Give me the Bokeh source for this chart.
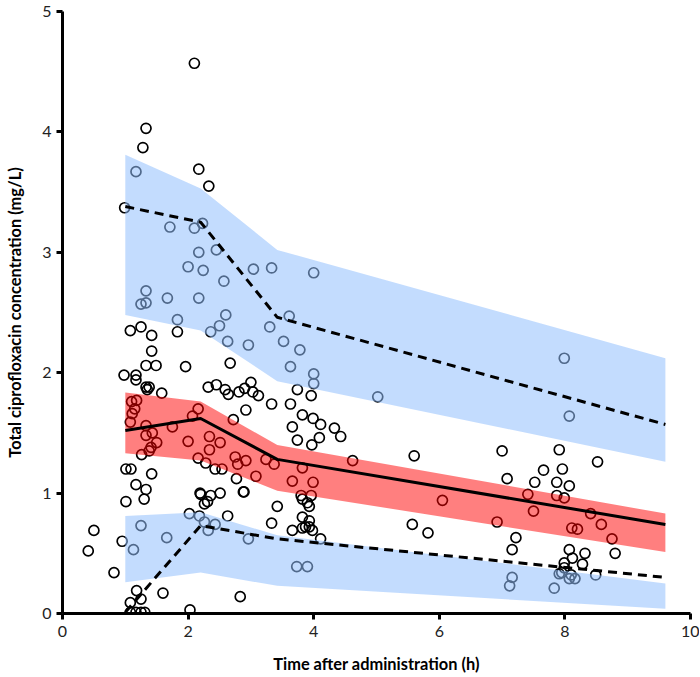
from bokeh.plotting import figure
from bokeh.models import FixedTicker, Range1d
from bokeh.embed import file_html
from bokeh.resources import INLINE

# Observed concentrations
time_h = [
    2.10, 1.33, 1.28, 1.17, 0.99, 2.17, 2.33,
    1.71, 2.10, 2.23, 2.17, 2.45, 2.00, 2.24, 2.57, 3.04, 3.33, 4.00,
    1.33, 1.25, 1.33, 1.67, 2.17, 1.83, 2.60, 2.50, 2.36, 3.61, 3.30,
    2.63, 2.96, 3.52, 3.78, 3.63, 4.00, 4.00, 5.02, 7.99, 8.07,
    1.08, 1.25, 1.42, 1.83,
    1.42, 1.33, 1.49, 1.96, 0.98, 1.17, 1.17, 1.33, 1.35, 1.38, 1.58, 2.67,
    2.32, 2.45, 2.59, 2.64, 2.81, 2.90, 3.00, 3.03, 3.12,
    3.33, 3.63, 3.74, 3.96, 2.92, 2.72, 3.82, 3.99, 4.11, 3.66, 3.74, 4.09, 3.97, 4.33, 4.43,
    1.10, 1.18, 1.15, 1.11, 1.08, 1.33, 1.75, 2.16, 2.07, 1.43, 1.33, 1.50, 1.41, 1.38, 1.26, 2.00, 2.16,
    2.34, 2.51, 2.34, 2.75, 2.92, 2.79, 3.24, 3.37, 3.08, 3.66, 3.99, 3.82, 3.80, 3.96, 4.62,
    1.01, 1.09, 1.42, 1.17, 1.33, 1.01, 1.30, 2.19,
    2.28, 2.43, 2.54, 2.77, 2.20, 2.36, 2.51, 2.31, 2.26, 2.88, 2.89, 3.42, 3.82, 3.90, 3.93,
    3.33, 3.82, 3.93, 3.82, 3.87, 3.93, 3.98, 3.66, 4.11, 2.63,
    2.02, 2.18, 1.25, 1.66, 1.13, 0.50, 0.41, 0.95, 0.82, 1.18, 1.60, 1.08, 1.25,
    1.08, 1.17, 1.25, 1.31, 2.03,
    2.26, 2.32, 2.43, 2.96, 3.73, 3.90, 2.83,
    5.60, 7.00, 7.91, 8.52, 7.66, 7.96, 7.08, 7.52, 7.87, 8.07,
    6.05, 7.41, 7.87, 7.99, 7.50, 6.92, 8.41, 8.58, 8.11, 8.20, 8.75,
    5.57, 5.82, 7.22, 7.16, 8.07, 8.32, 8.80, 8.12, 7.99, 8.28, 7.99,
    7.16, 7.12, 7.83, 7.91, 7.95, 8.07, 8.16, 8.10, 8.49,
]
conc_mg_l = [
    4.57, 4.03, 3.87, 3.67, 3.37, 3.69, 3.55,
    3.21, 3.20, 3.24, 3.00, 3.02, 2.88, 2.85, 2.76, 2.86, 2.87, 2.83,
    2.68, 2.57, 2.58, 2.62, 2.62, 2.44, 2.48, 2.39, 2.34, 2.47, 2.38,
    2.26, 2.23, 2.26, 2.19, 2.05, 1.99, 1.91, 1.80, 2.12, 1.64,
    2.35, 2.38, 2.31, 2.34,
    2.18, 2.06, 2.06, 2.05, 1.98, 1.98, 1.94, 1.88, 1.86, 1.88, 1.83, 2.08,
    1.88, 1.90, 1.86, 1.82, 1.84, 1.87, 1.92, 1.84, 1.81,
    1.74, 1.74, 1.86, 1.81, 1.69, 1.61, 1.65, 1.62, 1.57, 1.55, 1.44, 1.46, 1.40, 1.54, 1.47,
    1.76, 1.77, 1.70, 1.66, 1.59, 1.56, 1.55, 1.70, 1.64, 1.50, 1.48, 1.42, 1.38, 1.35, 1.32, 1.43, 1.29,
    1.47, 1.42, 1.36, 1.30, 1.27, 1.24, 1.28, 1.24, 1.14, 1.10, 1.09, 1.21, 0.98, 0.98, 1.27,
    1.20, 1.20, 1.16, 1.07, 1.03, 0.93, 0.95, 1.00,
    1.25, 1.20, 1.20, 1.12, 0.99, 0.98, 1.00, 0.93, 0.91, 1.01, 1.01, 0.89, 0.95, 0.92, 0.89,
    0.75, 0.80, 0.77, 0.71, 0.72, 0.72, 0.69, 0.69, 0.62, 0.81,
    0.83, 0.81, 0.73, 0.63, 0.53, 0.69, 0.52, 0.60, 0.34, 0.19, 0.17, 0.09, 0.12,
    0.01, 0.01, 0.01, 0.01, 0.03,
    0.76, 0.69, 0.74, 0.62, 0.39, 0.39, 0.14,
    1.31, 1.35, 1.36, 1.26, 1.19, 1.20, 1.12, 1.09, 1.09, 1.06,
    0.94, 0.99, 0.98, 0.96, 0.85, 0.76, 0.83, 0.74, 0.71, 0.70, 0.62,
    0.74, 0.67, 0.63, 0.53, 0.53, 0.50, 0.50, 0.46, 0.42, 0.41, 0.38,
    0.30, 0.23, 0.21, 0.33, 0.34, 0.29, 0.29, 0.32, 0.32,
]

# Binned percentiles
bin_time = [1.0, 2.2, 3.42, 9.6]
p95_ci_hi = [3.81, 3.53, 3.02, 2.12]
p95_ci_lo = [2.48, 2.35, 1.93, 1.26]
p95_obs = [3.38, 3.25, 2.46, 1.57]
p50_ci_hi = [1.835, 1.76, 1.40, 0.83]
p50_ci_lo = [1.33, 1.27, 1.02, 0.51]
p50_obs = [1.52, 1.62, 1.28, 0.74]
p5_ci_hi = [0.81, 0.84, 0.65, 0.25]
p5_ci_lo = [0.26, 0.34, 0.23, 0.04]
p5_obs = [0.01, 0.73, 0.62, 0.30]

x_ticks = [0, 2, 4, 6, 8, 10]
y_ticks = [0, 1, 2, 3, 4, 5]

FONT = "Lato"

p = figure(
    frame_width=628, frame_height=602,
    min_border_left=62, min_border_right=9, min_border_top=11, min_border_bottom=50,
    x_range=Range1d(0, 10), y_range=Range1d(0, 5),
    output_backend="svg", toolbar_location=None,
)
p.outline_line_color = None
p.grid.visible = False
p.background_fill_color = "white"
p.border_fill_color = "white"

p.scatter(time_h, conc_mg_l, size=10, marker="circle", fill_alpha=0,
          line_color="black", line_width=1.7)

blue = (145, 191, 254)
p.varea(x=bin_time, y1=p95_ci_lo, y2=p95_ci_hi, fill_color=blue, fill_alpha=0.55)
p.varea(x=bin_time, y1=p5_ci_lo, y2=p5_ci_hi, fill_color=blue, fill_alpha=0.55)
p.varea(x=bin_time, y1=p50_ci_lo, y2=p50_ci_hi, fill_color=(255, 0, 0), fill_alpha=0.5)

p.line(bin_time, p95_obs, line_color="black", line_width=3, line_dash="9 6")
p.line(bin_time, p5_obs, line_color="black", line_width=3, line_dash="9 6")
p.line(bin_time, p50_obs, line_color="black", line_width=3)

for ax in (p.xaxis[0], p.yaxis[0]):
    ax.axis_line_width = 3
    ax.axis_line_color = "black"
    ax.major_tick_line_width = 3
    ax.major_tick_out = 6
    ax.major_tick_in = 0
    ax.minor_tick_line_color = None
    ax.major_label_text_font = FONT
    ax.major_label_text_font_size = "16px"
    ax.major_label_text_color = "#222222"
    ax.axis_label_text_font = FONT
    ax.axis_label_text_font_style = "bold"
    ax.axis_label_text_font_size = "16.4px"
    ax.axis_label_text_color = "black"

p.xaxis.ticker = FixedTicker(ticks=x_ticks)
p.yaxis.ticker = FixedTicker(ticks=y_ticks)
p.xaxis.axis_label = "Time after administration (h)"
p.yaxis.axis_label = "Total ciprofloxacin concentration (mg/L)"
p.xaxis.major_label_standoff = 6
p.yaxis.major_label_standoff = 5
p.xaxis.axis_label_standoff = 14
p.yaxis.axis_label_standoff = 15

open("out.html", "w").write(file_html(p, INLINE))
